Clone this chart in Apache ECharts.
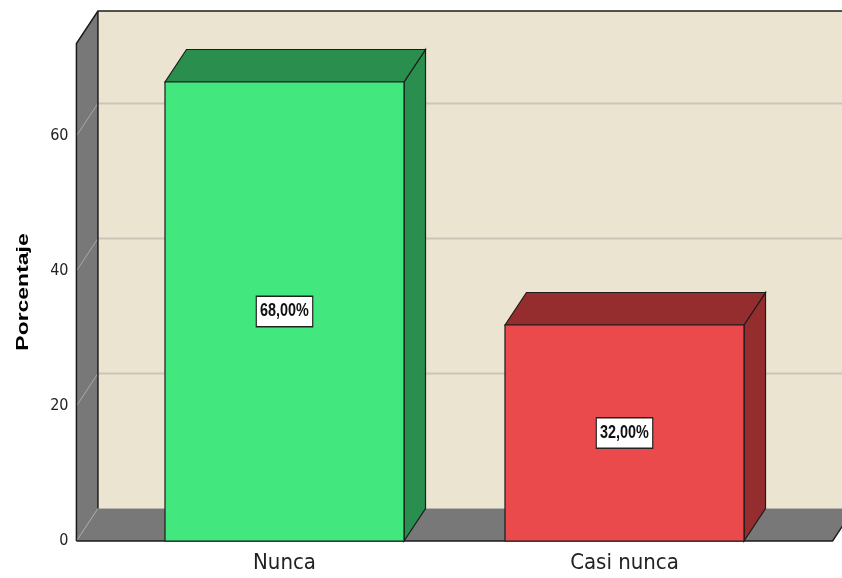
<!DOCTYPE html>
<html>
<head>
<meta charset="utf-8">
<script src="https://cdn.jsdelivr.net/npm/echarts@6/dist/echarts.min.js"></script>
<style>
  html, body { margin: 0; padding: 0; background: #fff; }
  #chart { width: 842px; height: 578px; }
</style>
</head>
<body>
<div id="chart"></div>
<script>
// data
var categories = ['Nunca', 'Casi nunca'];
var percentages = [68, 32];
var yTicks = [0, 20, 40, 60];
var yMax = 73.7;

// look
var NARROW = '"Liberation Sans Narrow", "DejaVu Sans Condensed", "Arial Narrow", sans-serif';
var frontColors = ['#42e87e', '#eb4a4c'];
var shadeColors = ['#2a8f4e', '#952d2f'];
var DX = 21.5, DY = -32.5;   // depth offset of the 3d box
var PAD = 0.112;             // floor overhang, in band widths
var HALF = 0.3515;           // half bar width, in band widths
var EDGE = '#1c1c1c';

var chart = echarts.init(document.getElementById('chart'));

function renderBox(params, api) {
  var bw = api.size([1, 0])[0];
  var xl = api.coord([0, 0])[0] - bw * (0.5 + PAD);
  var xr = api.coord([categories.length - 1, 0])[0] + bw * (0.5 + PAD);
  var y0 = api.coord([0, 0])[1];
  var yt = api.coord([0, yMax])[1];
  var kids = [];
  // back wall
  kids.push({ type: 'polygon', shape: { points: [[xl + DX, yt + DY], [xr + DX + 40, yt + DY], [xr + DX + 40, y0 + DY], [xl + DX, y0 + DY]] },
    style: { fill: '#eae4d0' } });
  // left wall
  kids.push({ type: 'polygon', shape: { points: [[xl, yt], [xl + DX, yt + DY], [xl + DX, y0 + DY], [xl, y0]] },
    style: { fill: '#787878' } });
  // floor
  kids.push({ type: 'polygon', shape: { points: [[xl, y0], [xl + DX, y0 + DY], [xr + DX, y0 + DY], [xr, y0]] },
    style: { fill: '#787878' } });
  // grid lines on back wall + diagonals on left wall
  yTicks.forEach(function (v) {
    var y = api.coord([0, v])[1];
    if (v > 0) {
      kids.push({ type: 'line', shape: { x1: xl + DX, y1: y + DY, x2: xr + DX + 40, y2: y + DY },
        style: { stroke: '#c9c5b9', lineWidth: 2 } });
    }
    kids.push({ type: 'line', shape: { x1: xl, y1: y, x2: xl + DX, y2: y + DY },
      style: { stroke: '#a9a9a9', lineWidth: 1 } });
  });
  // outlines
  kids.push({ type: 'polyline', shape: { points: [[xl, y0], [xl, yt], [xl + DX, yt + DY], [xr + DX + 40, yt + DY]] },
    style: { stroke: EDGE, lineWidth: 1.5, fill: null } });
  kids.push({ type: 'line', shape: { x1: xl + DX, y1: yt + DY, x2: xl + DX, y2: y0 + DY },
    style: { stroke: EDGE, lineWidth: 1.5 } });
  kids.push({ type: 'polyline', shape: { points: [[xl, y0], [xr, y0], [xr + DX, y0 + DY]] },
    style: { stroke: EDGE, lineWidth: 1.5, fill: null } });
  return { type: 'group', children: kids };
}

function renderBar(params, api) {
  var i = api.value(0);
  var v = api.value(1);
  var bw = api.size([1, 0])[0];
  var p0 = api.coord([i, 0]);
  var p1 = api.coord([i, v]);
  var cx = p0[0], y0 = p0[1], yt = p1[1];
  var hw = bw * HALF;
  var lx = cx - hw, rx = cx + hw;
  var line = { stroke: EDGE, lineWidth: 1.2 };
  return {
    type: 'group',
    children: [
      { type: 'polygon', shape: { points: [[rx, yt], [rx + DX, yt + DY], [rx + DX, y0 + DY], [rx, y0]] },
        style: Object.assign({ fill: shadeColors[i] }, line) },
      { type: 'polygon', shape: { points: [[lx, yt], [lx + DX, yt + DY], [rx + DX, yt + DY], [rx, yt]] },
        style: Object.assign({ fill: shadeColors[i] }, line) },
      { type: 'rect', shape: { x: lx, y: yt, width: rx - lx, height: y0 - yt },
        style: Object.assign({ fill: frontColors[i] }, line) },
      { type: 'text', x: cx, y: (yt + y0) / 2, scaleX: 0.8,
        style: {
          text: v.toFixed(2).replace('.', ',') + '%',
          font: 'bold 18px Arial, "Liberation Sans", sans-serif',
          fill: '#111', align: 'center', verticalAlign: 'middle',
          backgroundColor: '#fff', borderColor: '#222', borderWidth: 1.5,
          padding: [6, 4, 5, 4]
        } }
    ]
  };
}

var option = {
  animation: false,
  backgroundColor: '#fff',
  grid: { left: 114.5, right: 47.5, top: 43.5, bottom: 37 },
  xAxis: {
    type: 'category',
    data: categories,
    axisLine: { show: false },
    axisTick: { show: false },
    axisLabel: { fontSize: 22, fontFamily: NARROW, color: '#222', margin: 11 }
  },
  yAxis: {
    type: 'value',
    min: 0,
    max: yMax,
    interval: 20,
    axisLine: { show: false },
    axisTick: { show: false },
    splitLine: { show: false },
    axisLabel: { showMaxLabel: false, fontSize: 16, fontFamily: NARROW, color: '#222', margin: 46 }
  },
  graphic: [{
    type: 'text',
    x: 23, y: 292,
    rotation: Math.PI / 2,
    scaleX: 1.35,
    style: {
      text: 'Porcentaje',
      font: 'bold 17px Arial, "Liberation Sans", sans-serif',
      fill: '#000', align: 'center', verticalAlign: 'middle'
    }
  }],
  series: [
    { type: 'custom', z: 1, renderItem: renderBox, data: [[0, 0]], silent: true },
    {
      type: 'custom', z: 2, renderItem: renderBar,
      data: percentages.map(function (v, i) { return [i, v]; })
    }
  ]
};

chart.setOption(option);
window.onresize = function () { chart.resize(); };
</script>
</body>
</html>
